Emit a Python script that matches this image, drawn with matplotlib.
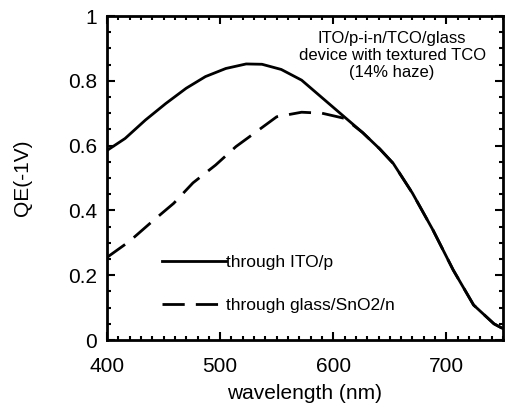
import matplotlib
matplotlib.use('Agg')
import matplotlib.pyplot as plt
from matplotlib.ticker import MultipleLocator

plt.rcParams['font.family'] = ['Liberation Sans', 'DejaVu Sans']

# through ITO/p (solid)
wl_ito = [400, 416, 434, 452, 470, 487, 505, 523, 537, 554, 572, 590,
          608, 626, 641, 653, 670, 688, 706, 724, 742, 750]
qe_ito = [0.585, 0.622, 0.679, 0.730, 0.777, 0.813, 0.838, 0.852, 0.851, 0.835, 0.802, 0.748,
          0.694, 0.640, 0.590, 0.545, 0.453, 0.340, 0.216, 0.108, 0.050, 0.035]

# through glass/SnO2/n (dashed)
wl_glass = [400, 420, 438, 459, 476, 496, 514, 534, 550, 572, 590, 610,
            626, 641, 653, 670, 688, 706, 724, 742, 750]
qe_glass = [0.255, 0.305, 0.360, 0.422, 0.485, 0.540, 0.597, 0.648, 0.689, 0.703, 0.700, 0.684,
            0.640, 0.590, 0.545, 0.453, 0.340, 0.216, 0.108, 0.050, 0.035]

fig = plt.figure(figsize=(5.05, 4.12), dpi=100)
ax = fig.add_axes([107/505, 1 - 340/412, 396/505, 324/412])

ax.plot(wl_ito, qe_ito, color='black', lw=2.0, solid_joinstyle='round',
        label='through ITO/p')
ax.plot(wl_glass, qe_glass, color='black', lw=2.0, linestyle=(0, (8, 4)),
        dash_joinstyle='round', label='through glass/SnO2/n')

ax.set_xlim(400, 750)
ax.set_ylim(0, 1)
ax.xaxis.set_major_locator(MultipleLocator(100))
ax.xaxis.set_minor_locator(MultipleLocator(10))
ax.yaxis.set_minor_locator(MultipleLocator(0.05))
ax.set_yticks([0, 0.2, 0.4, 0.6, 0.8, 1.0])
ax.set_yticklabels(['0', '0.2', '0.4', '0.6', '0.8', '1'])
ax.tick_params(which='both', direction='in', top=True, right=True, width=1.5, labelsize=15)
ax.tick_params(which='major', length=6)
ax.tick_params(which='minor', length=3)
ax.tick_params(axis='x', which='major', pad=12)
ax.tick_params(axis='y', which='major', pad=7)
for s in ax.spines.values():
    s.set_linewidth(2)

ax.set_xlabel('wavelength (nm)', fontsize=15, labelpad=6)
ax.set_ylabel('QE(-1V)', fontsize=15)
ax.yaxis.set_label_coords(-0.19, 0.5)

ax.text(0.72, 0.955, 'ITO/p-i-n/TCO/glass\ndevice with textured TCO\n(14% haze)',
        transform=ax.transAxes, ha='center', va='top', fontsize=12, linespacing=1.2)

ax.legend(loc='lower left', bbox_to_anchor=(0.10, 0.035), frameon=False, fontsize=12.5,
          handlelength=3.7, handletextpad=0.0, labelspacing=1.6)

fig.savefig('out.png', dpi=100)
